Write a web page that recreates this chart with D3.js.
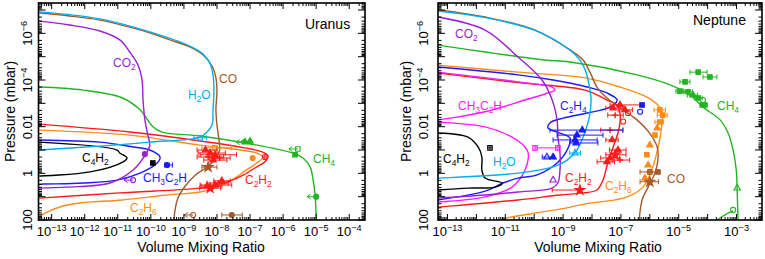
<!DOCTYPE html>
<html><head><meta charset="utf-8">
<script src="https://cdn.jsdelivr.net/npm/d3@7"></script>
<style>body{margin:0;background:#fff}text{font-family:"Liberation Sans",Arial,Helvetica,sans-serif}</style>
</head><body><svg id="c" width="765" height="259"></svg>
<script>
// ---------- DATA (volume mixing ratio, pressure in mbar) ----------
const pressureDomain = [5e-8, 100];
const uranusXDomain = [4e-14, 3e-4];
const neptuneXDomain = [4.7e-14, 7.6e-3];
const uranusXTicks = [1e-13,1e-12,1e-11,1e-10,1e-9,1e-8,1e-7,1e-6,1e-5,1e-4];
const uranusXTickLabels = ['10^−13','10^−12','10^−11','10^−10','10^−9','10^−8','10^−7','10^−6','10^−5','10^−4'];
const neptuneXTicks = [1e-13,1e-11,1e-9,1e-7,1e-5,1e-3];
const neptuneXTickLabels = ['10^−13','10^−11','10^−9','10^−7','10^−5','10^−3'];
const pressureTicks = [1e-6,1e-4,0.01,1,100];
const pressureTickLabels = ['10^−6','10^−4','0.01','1','100'];

// Uranus model profiles
const uranusCO = [[4.2e-14,1.35e-7],[3.5e-13,1.8e-7],[2.9e-12,2.7e-7],[2.3e-11,5.4e-7],[9.3e-11,9.5e-7],[3.8e-10,1.9e-6],[1.5e-9,3.8e-6],[3.8e-9,8.5e-6],[7.1e-9,2.5e-5],[9.3e-9,8.1e-5],[1.0e-8,2.7e-4],[9.3e-9,1.9e-3],[1.0e-8,8.5e-3],[1.15e-8,0.037],[1.2e-8,0.1],[9.3e-9,0.22],[5e-9,0.54],[2.2e-9,1.2],[1.1e-9,3.5],[6.6e-10,11.5],[5.4e-10,37],[5e-10,100]];
const uranusH2O = [[4.2e-14,1.2e-7],[2.9e-12,2.4e-7],[9.3e-11,8.7e-7],[1.5e-9,3.5e-6],[3.8e-9,7.6e-6],[6.2e-9,2e-5],[7.6e-9,6e-5],[8.1e-9,2.7e-4],[7.6e-9,1.9e-3],[7.1e-9,8.5e-3],[5e-9,0.017],[3.1e-9,0.028],[9.3e-11,0.046],[2.9e-12,0.068],[4.2e-14,0.1]];
const uranusCO2 = [[4.2e-14,3e-7],[3.5e-13,4.4e-7],[2.9e-12,7.9e-7],[1.15e-11,1.9e-6],[2.3e-11,6.3e-6],[4.1e-11,2.3e-5],[5.4e-11,9.3e-5],[5.8e-11,7.2e-4],[6.6e-11,5.1e-3],[8.1e-11,0.023],[9.3e-11,0.062],[7e-11,0.15],[2.9e-11,0.72],[5.8e-12,2.6],[2.9e-13,3.9],[4.2e-14,4.3]];
const uranusCH4 = [[4.2e-14,2e-4],[8.9e-13,2.7e-4],[1.4e-11,5.9e-4],[4.7e-11,1.9e-3],[1.15e-10,0.010],[2.2e-10,0.017],[3.1e-9,0.025],[7.1e-8,0.05],[2e-6,0.135],[4e-6,0.22],[6.6e-6,0.54],[8.1e-6,1.95],[9.3e-6,8.5],[1e-5,100]];
const uranusC2H2 = [[4.2e-14,7.8e-3],[2.3e-11,0.017],[3.1e-9,0.041],[5e-8,0.074],[2.3e-7,0.12],[3.5e-7,0.18],[2.8e-7,0.32],[1.4e-7,0.59],[6.2e-8,1.2],[2.5e-8,2.1],[7.1e-9,3.5],[3.1e-9,4.3],[1.15e-11,6.9],[4.2e-14,11.5]];
const uranusC2H6 = [[4.2e-14,0.014],[2.3e-11,0.023],[3.1e-9,0.062],[5e-8,0.1],[1.6e-7,0.135],[2.5e-7,0.2],[1.6e-7,0.36],[7.1e-8,0.79],[2.8e-8,1.95],[8.7e-9,4.3],[3.1e-9,6.3],[3.1e-10,8.5],[1.4e-11,13.8],[7.2e-13,18.6],[2.2e-13,25],[7.2e-14,46],[4.2e-14,74]];
const uranusCH3C2H = [[4.2e-14,0.037],[2.9e-12,0.046],[2.9e-11,0.074],[9.3e-11,0.1],[1.9e-10,0.2],[1.55e-10,0.36],[4.7e-11,0.98],[9.5e-12,1.95],[8.9e-13,2.6],[4.2e-14,2.9]];
const uranusC4H2 = [[4.2e-14,0.046],[9.5e-12,0.1],[1.15e-11,0.135],[1.9e-11,0.22],[1.45e-11,0.32],[1.45e-12,0.87],[4.2e-14,1.3]];

// Uranus observations: [vmr, p, symbol, errLow, errHigh, upperLimit]
const uranusObsCH4 = [[7.1e-8,0.046,'tf',null,null,1],[1e-7,0.042,'tf',null,null,1],[2.8e-6,0.09,'so',null,null,1],[2.3e-6,0.16,'sf'],[1e-5,10,'cf',null,null,1]];
const uranusObsH2O = [[3.1e-9,0.03,'so',2e-9,4.8e-9]];
const uranusObsCO = [[5.4e-9,0.54,'st',3.5e-9,1e-8],[2.8e-8,61,'cf',1.4e-8,5.8e-8],[1.9e-9,61,'co',null,null,1]];
const uranusObsCO2 = [[2.9e-11,1.95,'co',null,null,1],[6.6e-11,0.15,'cf']];
const uranusObsC4H2 = [[1.15e-10,0.36,'sf',1e-10,1.3e-10]];
const uranusObsCH3C2H = [[3.1e-10,0.44,'cf',2.6e-10,4.5e-10]];
const uranusObsC2H6 = [[1.2e-7,0.22,'cf'],[8.7e-9,0.081,'so',3.5e-9,2.8e-8]];
const uranusObsC2H2 = [[6.2e-9,0.135,'tf',2.7e-9,1.8e-8],[8.7e-9,0.16,'tf',3.1e-9,3.9e-8],[5.4e-9,0.2,'pl',2.5e-9,1.6e-8],[1.2e-8,0.22,'pl',6e-9,2.5e-8],[7.6e-9,0.27,'tf',4e-9,2e-8],[4.5e-9,0.1,'tf',2.5e-9,1e-8],[2.8e-7,0.2,'cp'],[8.7e-9,3.16,'tf',3.1e-9,2.8e-8],[6.2e-9,4.3,'st',3e-9,1.3e-8],[1.1e-8,2.6,'pl',5e-9,2.2e-8],[5e-9,3.5,'tf',3.3e-9,1.4e-8],[1.4e-8,2.1,'tf',8e-9,2.5e-8]];

// Neptune model profiles
const neptuneCO = [[4.7e-14,1e-7],[2e-12,2e-7],[1.07e-10,7.2e-7],[1.74e-9,5.1e-6],[4.9e-9,1.38e-5],[8.5e-9,4.6e-5],[1.48e-8,2e-4],[3.3e-8,5.9e-4],[1.17e-7,1.9e-3],[3.6e-7,5.1e-3],[8.7e-7,0.0155],[1.8e-6,0.074],[1.9e-6,0.27],[1.5e-6,0.98],[8.7e-7,3.9],[5.4e-7,13.8],[4.3e-7,100]];
const neptuneH2O = [[4.7e-14,1.1e-7],[2e-12,2.1e-7],[1.07e-10,7.5e-7],[1.74e-9,5.3e-6],[3.8e-9,1.38e-5],[5.8e-9,3.7e-5],[7.9e-9,1.6e-4],[9.3e-9,7.2e-4],[7.9e-9,4.3e-3],[4.9e-9,0.028],[3e-9,0.1],[1.38e-9,0.27],[4.2e-10,0.54],[2.75e-11,0.98],[4.7e-14,1.6]];
const neptuneCO2 = [[4.7e-14,2e-7],[2e-12,7.2e-7],[2.75e-11,1.03e-5],[1.86e-10,1e-4],[4.2e-10,7.2e-4],[6.2e-10,5.1e-3],[6.6e-10,0.028],[7.8e-10,0.135],[7.8e-10,0.72],[6.6e-10,2.6],[4.2e-10,4.3],[2.75e-11,6.3],[2e-12,8.5],[4.7e-14,11.5]];
const neptuneCH4 = [[4.7e-14,3.2e-6],[2e-12,6.3e-6],[2.3e-10,1.38e-5],[1.74e-9,1.7e-5],[3.6e-7,6e-5],[5e-6,1.6e-4],[2.45e-5,4.4e-4],[6.9e-5,1.45e-3],[2.7e-4,5.1e-3],[5.1e-4,0.0186],[7.6e-4,0.1],[9.8e-4,0.72],[1.05e-3,5.2],[1.12e-3,100]];
const neptuneCH4Deep = [[2.1e-4,100],[4e-4,60],[7.6e-4,41]];
const neptuneC2H6 = [[4.7e-14,2.3e-5],[2.75e-11,4.6e-5],[5.8e-9,8.1e-5],[9.3e-8,2e-4],[7.9e-7,5.4e-4],[2.2e-6,1.45e-3],[2.8e-6,3.2e-3],[2.6e-6,8.5e-3],[2.2e-6,0.037],[1.5e-6,0.27],[1e-6,1.17],[5.8e-7,3.9],[2e-7,9.3],[6.3e-8,13.8],[8.5e-9,19],[7.8e-10,34],[7.2e-11,55],[8.3e-12,91],[5e-12,130]];
const neptuneC2H4 = [[4.7e-14,2.75e-5],[2.75e-11,6e-5],[4.5e-10,1e-4],[6.8e-9,2e-4],[3.3e-8,3.6e-4],[7.4e-8,7.2e-4],[4.2e-8,1.45e-3],[6.8e-9,2.6e-3],[1e-9,4.3e-3],[3.5e-10,6.9e-3],[3e-10,0.0115],[6.2e-10,0.017],[1.74e-9,0.031],[1.38e-9,0.1],[6.2e-10,0.36],[1.26e-10,1.17],[2.75e-11,1.6],[8.3e-12,2.6],[2e-12,5.8],[4.7e-14,13.8]];
const neptuneCH3C2H = [[4.7e-14,4.6e-5],[2.75e-11,1.2e-4],[4.2e-10,2e-4],[5.2e-10,2.7e-4],[3e-10,3.6e-4],[4.8e-11,7.2e-4],[2e-12,2.3e-3],[4.7e-14,5.1e-3],[1e-14,5.7e-3],[4.7e-14,6.3e-3],[2e-12,0.0102],[1.7e-11,0.028],[4.8e-11,0.074],[6.2e-11,0.135],[4.8e-11,0.72],[1.7e-11,3.9],[2e-12,10.2],[4.7e-14,17]];
const neptuneC2H2 = [[4.7e-14,5e-5],[2.75e-11,1.3e-4],[5.8e-9,2.7e-4],[3.3e-8,7.2e-4],[7.4e-8,1.17e-3],[9.3e-8,2.6e-3],[9.3e-8,6.9e-3],[7.9e-8,0.0186],[5.4e-8,0.074],[3.5e-8,0.36],[2.4e-8,1.95],[1.48e-8,5.2],[4.9e-9,6.9],[7.8e-10,8.5],[2.75e-11,13.8],[4.7e-14,28]];
const neptuneC4H2 = [[4.7e-14,0.0186],[5.1e-13,0.028],[1.15e-12,0.074],[1.55e-12,0.2],[1.55e-12,0.72],[2e-12,1.6],[7.8e-12,2.6],[4.4e-12,3.9],[5.1e-13,4.3],[4.7e-14,5.2]];

// Neptune observations
const neptuneObsCH4 = [[4.7e-5,4.6e-5,'sf',2.45e-5,9.5e-5],[1.2e-4,7.4e-5,'sf',6.9e-5,2.1e-4],[1.66e-5,1.2e-4,'sf',1.1e-5,2.45e-5],[1.1e-5,3e-4,'sf',8e-6,1.5e-5],[2.1e-5,3.2e-4,'sf',1.5e-5,3e-5],[3.1e-5,4.4e-4,'tf',2e-5,4.5e-5],[4.7e-5,5.9e-4,'sf',3.5e-5,6.5e-5],[6.9e-5,7.2e-4,'co'],[6.5e-5,1.17e-3,'sf'],[8.1e-5,1.17e-3,'sf'],[1.05e-3,4.3,'to'],[7.6e-4,37,'co']];
const neptuneObsC2H2 = [[9.3e-8,1.17e-3,'tf',4.2e-8,4.6e-7],[5.4e-8,1.6e-3,'tf',3e-8,1.2e-7],[1.38e-7,1.9e-3,'tf',8e-8,2.5e-7],[6.3e-8,3.2e-3,'pl',3.5e-8,1.2e-7],[1.75e-7,2.6e-3,'co'],[1.2e-7,6e-3,'co'],[4.2e-8,0.014,'pl',2e-8,1.17e-7],[5e-8,0.037,'tf',3e-8,8e-8],[7.9e-8,0.1,'tf',4e-8,1.5e-7],[6.3e-8,0.16,'st',3e-8,1.5e-7],[4.2e-8,0.22,'tf',2e-8,9e-8],[9.3e-8,0.27,'pl',5e-8,2e-7],[3.3e-8,0.32,'tf',1.5e-8,6e-8],[3.8e-9,5.2,'st',4.2e-10,3.8e-9]];
const neptuneObsC2H4 = [[4.6e-9,0.014,'tf',3.5e-10,1.17e-7],[3e-9,0.023,'tf',6.2e-10,2.4e-8],[2.6e-9,0.037,'tf',4.5e-10,1.5e-8],[2.8e-9,0.05,'tf',1.7e-9,1.6e-8],[2.75e-10,0.2,'to',1.9e-10,5e-10],[4.5e-10,0.2,'tf'],[5.4e-7,1.17e-3,'sf'],[4.6e-7,2.3e-3,'co']];
const neptuneObsC2H6 = [[2.2e-6,1.9e-3,'sf',1.4e-6,3.5e-6],[2.8e-6,3.2e-3,'sf',1.8e-6,4e-6],[2.2e-6,6.3e-3,'sf',1.5e-6,3e-6],[1.8e-6,0.0115,'tf'],[1.5e-6,0.023,'sf'],[1e-6,0.062,'tf'],[7.9e-7,0.16,'sf'],[8.7e-7,0.44,'tf'],[1e-6,0.87,'sf'],[6.8e-7,1.6,'tf']];
const neptuneObsCO = [[1e-6,0.87,'cp',4.6e-7,2.2e-6],[1.9e-6,0.87,'sf'],[1e-6,2.3,'st',4.6e-7,2e-6]];
const neptuneObsCH3C2H = [[1.07e-10,0.081,'so',1.07e-10,6.6e-10],[6.6e-10,0.081,'so']];
const neptuneObsCO2 = [[4.5e-10,1.95,'to']];
const neptuneObsH2O = [[2.6e-9,0.135,'to',1.7e-9,4e-9]];
const neptuneObsC4H2 = [[2.95e-12,0.081,'sp']];

// ---------- STYLE ----------
const colors = {CO:'#a5582a',H2O:'#00aeef',CO2:'#9a1fd6',CH4:'#22b522',C2H2:'#ff1a1a',C2H6:'#ff8c1a',C2H4:'#1a1aff',CH3C2H_U:'#1a1aff',CH3C2H_N:'#ff1aff',C4H2:'#000000'};
const TOP = 3, BOTTOM = 220;
const svg = d3.select('#c');

function richText(sel, str, size) {
  let i = 0, shift = 0, buf = '';
  const add = (t, fs, dy) => sel.append('tspan').attr('font-size', fs).attr('dy', dy).text(t);
  const flush = () => { if (buf) { add(buf, size, -shift); shift = 0; buf = ''; } };
  while (i < str.length) {
    const ch = str[i];
    if (ch === '_') { flush(); const d = size * 0.25; add(str[i+1], size * 0.7, d - shift); shift = d; i += 2; continue; }
    if (ch === '^') { flush(); const d = -size * 0.42; add(str.slice(i+1), size * 0.7, d - shift); shift = d; i = str.length; continue; }
    buf += ch; i++;
  }
  flush();
}

function drawMarker(g, x, y, m, color) {
  const [v, p, sym, lo, hi, arrow] = m;
  const cx = x(v), cy = y(p);
  const s = g.append('g').attr('stroke', color).attr('fill', 'none').attr('stroke-width', 1);
  if (lo != null) {
    s.append('line').attr('x1', x(lo)).attr('x2', x(hi)).attr('y1', cy).attr('y2', cy);
    [lo, hi].forEach(e => s.append('line').attr('x1', x(e)).attr('x2', x(e)).attr('y1', cy - 2.5).attr('y2', cy + 2.5));
  }
  if (arrow) {
    s.append('path').attr('d', `M${cx},${cy}H${cx-9}M${cx-5.5},${cy-2.5}L${cx-9},${cy}L${cx-5.5},${cy+2.5}`);
  }
  if (sym === 'pl') {
    s.append('path').attr('stroke-width', 1.4).attr('d', `M${cx-3},${cy}H${cx+3}M${cx},${cy-3}V${cy+3}`);
    return;
  }
  const filled = ['tf','sf','cf','st'].includes(sym);
  const type = sym === 'st' ? d3.symbolStar : ({t: d3.symbolTriangle, s: d3.symbolSquare, c: d3.symbolCircle})[sym[0]];
  const size = sym === 'st' ? 30 : (sym[0] === 't' ? 18 : 20);
  s.append('path').attr('transform', `translate(${cx},${cy})`)
    .attr('d', d3.symbol().type(type).size(size)())
    .attr('fill', filled ? color : 'none').attr('stroke-width', 1.1);
  if (sym === 'cp' || sym === 'sp') {
    s.append('path').attr('d', `M${cx-2.5},${cy}H${cx+2.5}M${cx},${cy-2.5}V${cy+2.5}`);
  }
}

function renderPanel(cfg) {
  const x = d3.scaleLog().domain(cfg.xDomain).range([cfg.left, cfg.right]);
  const y = d3.scaleLog().domain(pressureDomain).range([TOP, BOTTOM]);
  const clipId = 'clip-' + cfg.id;
  svg.append('defs').append('clipPath').attr('id', clipId).append('rect')
    .attr('x', cfg.left).attr('y', TOP).attr('width', cfg.right - cfg.left).attr('height', BOTTOM - TOP);
  const plot = svg.append('g').attr('clip-path', `url(#${clipId})`);
  const line = d3.line().x(d => x(d[0])).y(d => y(d[1])).curve(d3.curveCatmullRom.alpha(0.5));
  cfg.curves.forEach(([data, key]) => plot.append('path').attr('d', line(data)).attr('fill', 'none')
    .attr('stroke', colors[key]).attr('stroke-width', 1.4).attr('stroke-linejoin', 'round'));
  cfg.obs.forEach(([data, key]) => data.forEach(m => drawMarker(plot, x, y, m, colors[key])));

  const fr = svg.append('g').attr('stroke', '#000');
  const [xa, xb] = x.domain();
  for (let e = Math.floor(Math.log10(xa)); e <= Math.ceil(Math.log10(xb)); e++) {
    for (let k = 1; k <= 9; k++) {
      const v = k * Math.pow(10, e);
      if (v < xa || v > xb) continue;
      const px = x(v), L = k === 1 ? 6 : 3;
      fr.append('line').attr('x1', px).attr('x2', px).attr('y1', BOTTOM).attr('y2', BOTTOM - L);
      fr.append('line').attr('x1', px).attr('x2', px).attr('y1', TOP).attr('y2', TOP + L);
    }
  }
  const [ya, yb] = y.domain();
  for (let e = Math.floor(Math.log10(ya)); e <= Math.ceil(Math.log10(yb)); e++) {
    for (let k = 1; k <= 9; k++) {
      const v = k * Math.pow(10, e);
      if (v < ya * 0.999 || v > yb * 1.001) continue;
      const py = y(v), L = k === 1 ? 7 : 3.5;
      fr.append('line').attr('y1', py).attr('y2', py).attr('x1', cfg.left).attr('x2', cfg.left + L);
      fr.append('line').attr('y1', py).attr('y2', py).attr('x1', cfg.right).attr('x2', cfg.right - L);
    }
  }
  fr.append('rect').attr('x', cfg.left).attr('y', TOP).attr('width', cfg.right - cfg.left).attr('height', BOTTOM - TOP)
    .attr('fill', 'none').attr('stroke-width', 1.6);

  cfg.xTicks.forEach((v, i) => {
    const t = svg.append('text').attr('x', x(v)).attr('y', 236).attr('text-anchor', 'middle').attr('fill', '#000');
    richText(t, cfg.xTickLabels[i], 13);
  });
  pressureTicks.forEach((v, i) => {
    const t = svg.append('text').attr('transform', `translate(${cfg.yLabX},${y(v)}) rotate(-90)`).attr('text-anchor', 'middle').attr('fill', '#000');
    richText(t, pressureTickLabels[i], 13);
  });
  svg.append('text').attr('x', cfg.xTitleX).attr('y', 252).attr('text-anchor', 'middle').attr('font-size', 14).text('Volume Mixing Ratio');
  svg.append('text').attr('transform', `translate(${cfg.yTitleX},${(TOP + BOTTOM) / 2}) rotate(-90)`).attr('text-anchor', 'middle')
    .attr('font-size', 14).text('Pressure (mbar)');
  svg.append('text').attr('x', cfg.name[1]).attr('y', cfg.name[2]).attr('font-size', 14).text(cfg.name[0]);
  cfg.labels.forEach(([txt, key, lx, ly]) => {
    const t = svg.append('text').attr('x', lx).attr('y', ly).attr('fill', colors[key]);
    richText(t, txt, 12);
  });
}

renderPanel({
  id: 'u', left: 38.5, right: 365, xDomain: uranusXDomain, xTicks: uranusXTicks, xTickLabels: uranusXTickLabels,
  yLabX: 32, yTitleX: 15, xTitleX: 201, name: ['Uranus', 305, 29],
  curves: [[uranusCH4,'CH4'],[uranusC2H6,'C2H6'],[uranusC2H2,'C2H2'],[uranusCH3C2H,'CH3C2H_U'],[uranusC4H2,'C4H2'],[uranusCO2,'CO2'],[uranusCO,'CO'],[uranusH2O,'H2O']],
  obs: [[uranusObsCH4,'CH4'],[uranusObsH2O,'H2O'],[uranusObsCO,'CO'],[uranusObsCO2,'CO2'],[uranusObsC4H2,'C4H2'],[uranusObsCH3C2H,'CH3C2H_U'],[uranusObsC2H6,'C2H6'],[uranusObsC2H2,'C2H2']],
  labels: [['CO_2','CO2',113,67],['H_2O','H2O',188,99],['CO','CO',219,83],['CH_4','CH4',313,163],['C_2H_2','C2H2',245,184],['CH_3C_2H','CH3C2H_U',143,182],['C_4H_2','C4H2',82,162],['C_2H_6','C2H6',130,212]]
});
renderPanel({
  id: 'n', left: 438, right: 762, xDomain: neptuneXDomain, xTicks: neptuneXTicks, xTickLabels: neptuneXTickLabels,
  yLabX: 428, yTitleX: 411, xTitleX: 598, name: ['Neptune', 693, 25],
  curves: [[neptuneCH4,'CH4'],[neptuneCH4Deep,'CH4'],[neptuneC2H6,'C2H6'],[neptuneC2H2,'C2H2'],[neptuneCH3C2H,'CH3C2H_N'],[neptuneC2H4,'C2H4'],[neptuneC4H2,'C4H2'],[neptuneCO2,'CO2'],[neptuneCO,'CO'],[neptuneH2O,'H2O']],
  obs: [[neptuneObsCH4,'CH4'],[neptuneObsC2H6,'C2H6'],[neptuneObsC2H2,'C2H2'],[neptuneObsC2H4,'C2H4'],[neptuneObsCO,'CO'],[neptuneObsCH3C2H,'CH3C2H_N'],[neptuneObsCO2,'CO2'],[neptuneObsH2O,'H2O'],[neptuneObsC4H2,'C4H2']],
  labels: [['CO_2','CO2',455,38],['CH_3C_2H','CH3C2H_N',458,110],['C_2H_4','C2H4',560,110],['C_4H_2','C4H2',443,163],['H_2O','H2O',493,166],['C_2H_2','C2H2',565,182],['C_2H_6','C2H6',605,190],['CO','CO',667,183],['CH_4','CH4',717,110]]
});
</script></body></html>
